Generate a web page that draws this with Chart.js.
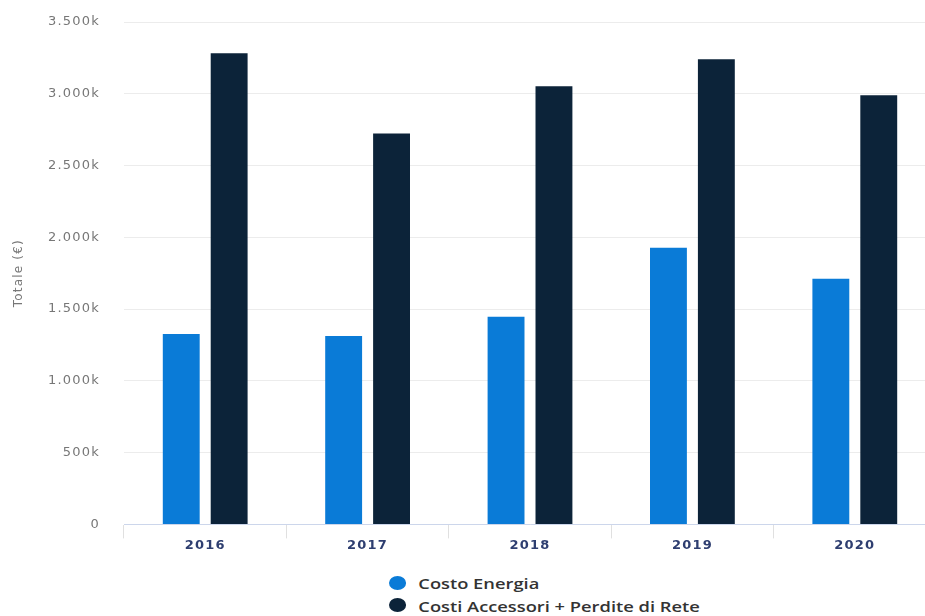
<!DOCTYPE html>
<html>
<head>
<meta charset="utf-8">
<script src="https://cdn.jsdelivr.net/npm/chart.js@4/dist/chart.umd.min.js"></script>
<style>
  html, body { margin:0; padding:0; background:#fff; overflow:hidden; width:925px; height:616px; }
  #wrap { position:absolute; left:0; top:0; width:945px; height:552px; }
  #legend { position:absolute; left:389px; top:572px; font-family:"Open Sans", sans-serif; font-weight:600; font-size:15px; color:#333; transform:scaleX(1.22); transform-origin:0 0; }
  #legend .item { height:22.5px; line-height:22.5px; white-space:nowrap; }
  #legend .dot { display:inline-block; width:14px; height:14px; border-radius:50%; vertical-align:middle; margin-right:10px; position:relative; top:-2px; }
</style>
</head>
<body>
<div id="wrap"><canvas id="c" width="945" height="552"></canvas></div>
<div id="legend"></div>
<script>
// ---- data (values in thousands of €) ----
const categories = ["2016", "2017", "2018", "2019", "2020"];
const costoEnergia = [1327, 1313, 1446, 1927, 1711];
const costiAccessori = [3282, 2723, 3052, 3240, 2990];
const seriesNames = ["Costo Energia", "Costi Accessori + Perdite di Rete"];
const seriesColors = ["#0a7bd7", "#0c2339"];
const yTicks = [0, 500, 1000, 1500, 2000, 2500, 3000, 3500];
const yTitle = "Totale (€)";

function fmt(v) {
  if (v === 0) return "0";
  const s = String(v).replace(/\B(?=(\d{3})+(?!\d))/g, ".");
  return s + "k";
}

const spacing = {
  id: "spacing",
  beforeDraw(chart) { chart.ctx.letterSpacing = "1.2px"; }
};

const chart = new Chart(document.getElementById("c"), {
  type: "bar",
  data: {
    labels: categories,
    datasets: [
      { label: seriesNames[0], data: costoEnergia, backgroundColor: seriesColors[0] },
      { label: seriesNames[1], data: costiAccessori, backgroundColor: seriesColors[1] }
    ]
  },
  options: {
    responsive: false,
    animation: false,
    devicePixelRatio: 1,
    layout: { padding: { top: 22, right: 9, left: 0, bottom: 0 } },
    datasets: { bar: { categoryPercentage: 0.59, barPercentage: 0.77 } },
    plugins: { legend: { display: false }, tooltip: { enabled: false } },
    scales: {
      x: {
        grid: { display: true, drawOnChartArea: false, drawTicks: true, tickLength: 14, color: "#e0e0e0", offset: true },
        border: { display: true, color: "#ccd6eb" },
        ticks: { color: "#2e3e70", font: { family: "DejaVu Sans", size: 13, weight: "bold" }, padding: -1 }
      },
      y: {
        min: 0, max: 3500,
        afterBuildTicks(scale) { scale.ticks = yTicks.map(v => ({ value: v })); },
        afterFit(scale) { scale.width = 124; scale.paddingTop = 0; scale.paddingBottom = 0; },
        grid: { color: "#ececec", drawTicks: false },
        border: { display: false },
        ticks: { color: "#777", font: { family: "DejaVu Sans", size: 13 }, padding: 24, callback: v => fmt(v) },
        title: { display: true, text: yTitle, color: "#777", font: { family: "DejaVu Sans", size: 12 }, padding: { top: 12, bottom: 0 } }
      }
    }
  },
  plugins: [spacing]
});

const lg = document.getElementById("legend");
seriesNames.forEach((n, i) => {
  const d = document.createElement("div"); d.className = "item";
  const dot = document.createElement("span"); dot.className = "dot"; dot.style.background = seriesColors[i];
  d.appendChild(dot); d.appendChild(document.createTextNode(n)); lg.appendChild(d);
});
</script>
</body>
</html>
